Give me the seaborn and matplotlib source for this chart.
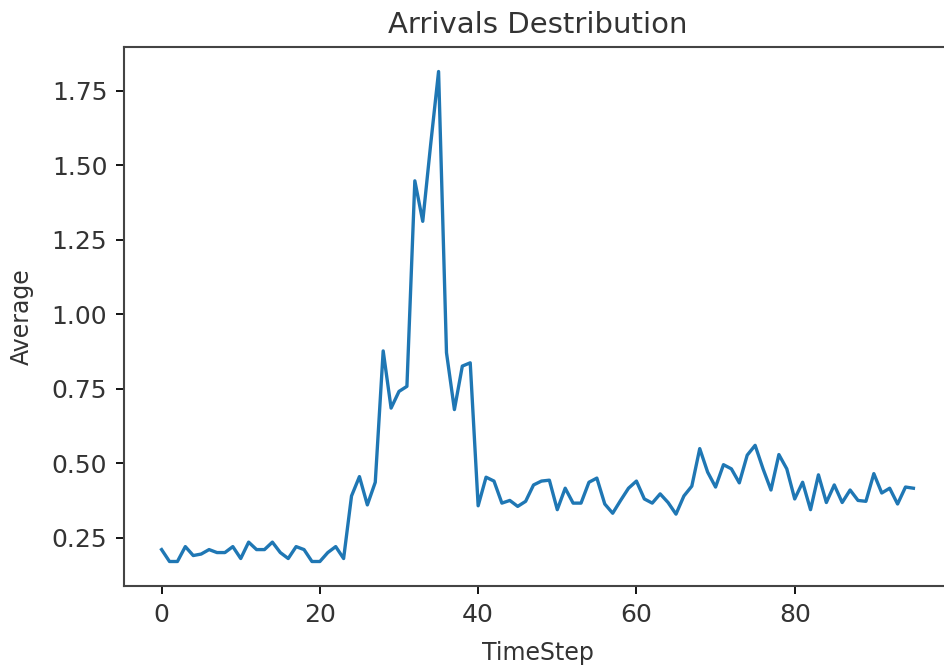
import numpy as np
import pandas as pd
import matplotlib
matplotlib.use("Agg")
import matplotlib.pyplot as plt
import seaborn as sns

# valores
timestep = list(range(96))
average = [
    0.21, 0.17, 0.17, 0.22, 0.19, 0.195, 0.21, 0.20, 0.20, 0.22,
    0.18, 0.235, 0.21, 0.21, 0.235, 0.20, 0.18, 0.22, 0.21, 0.17,
    0.17, 0.20, 0.22, 0.18, 0.39, 0.455, 0.36, 0.436, 0.877, 0.685,
    0.741, 0.758, 1.448, 1.312, 1.57, 1.815, 0.871, 0.68, 0.826, 0.837,
    0.357, 0.453, 0.44, 0.366, 0.375, 0.355, 0.372, 0.427, 0.44, 0.443,
    0.344, 0.416, 0.366, 0.366, 0.436, 0.45, 0.363, 0.332, 0.375, 0.416,
    0.44, 0.38, 0.366, 0.397, 0.368, 0.329, 0.39, 0.423, 0.549, 0.47,
    0.42, 0.495, 0.481, 0.434, 0.527, 0.56, 0.481, 0.41, 0.529, 0.481,
    0.38, 0.436, 0.344, 0.461, 0.368, 0.427, 0.368, 0.41, 0.375, 0.372,
    0.465, 0.40, 0.416, 0.363, 0.42, 0.416,
]

df = pd.DataFrame({"TimeStep": timestep, "Average": average})

fig = plt.figure(figsize=(9.44, 6.66), dpi=100)
# el eje derecho queda fuera de la imagen, como en el original
ax = fig.add_axes([124 / 944, 1 - 586 / 666, 827 / 944, 539 / 666])

sns.lineplot(data=df, x="TimeStep", y="Average", ax=ax, color="#1f77b4", linewidth=2.4)

ax.set_title("Arrivals Destribution", fontsize=21, color="#333333", pad=10)
ax.set_xlabel("TimeStep", fontsize=17, color="#333333", labelpad=10)
ax.set_ylabel("Average", fontsize=17, color="#333333", labelpad=13)
ax.set_xticks([0, 20, 40, 60, 80])
ax.set_yticks([0.25, 0.5, 0.75, 1.0, 1.25, 1.5, 1.75])
ax.tick_params(labelsize=18, labelcolor="#333333", length=6, width=1.3, pad=6)
for s in ax.spines.values():
    s.set_linewidth(1.5)
    s.set_color("#444444")
ax.spines["right"].set_visible(False)

fig.savefig("out.png", dpi=100)
